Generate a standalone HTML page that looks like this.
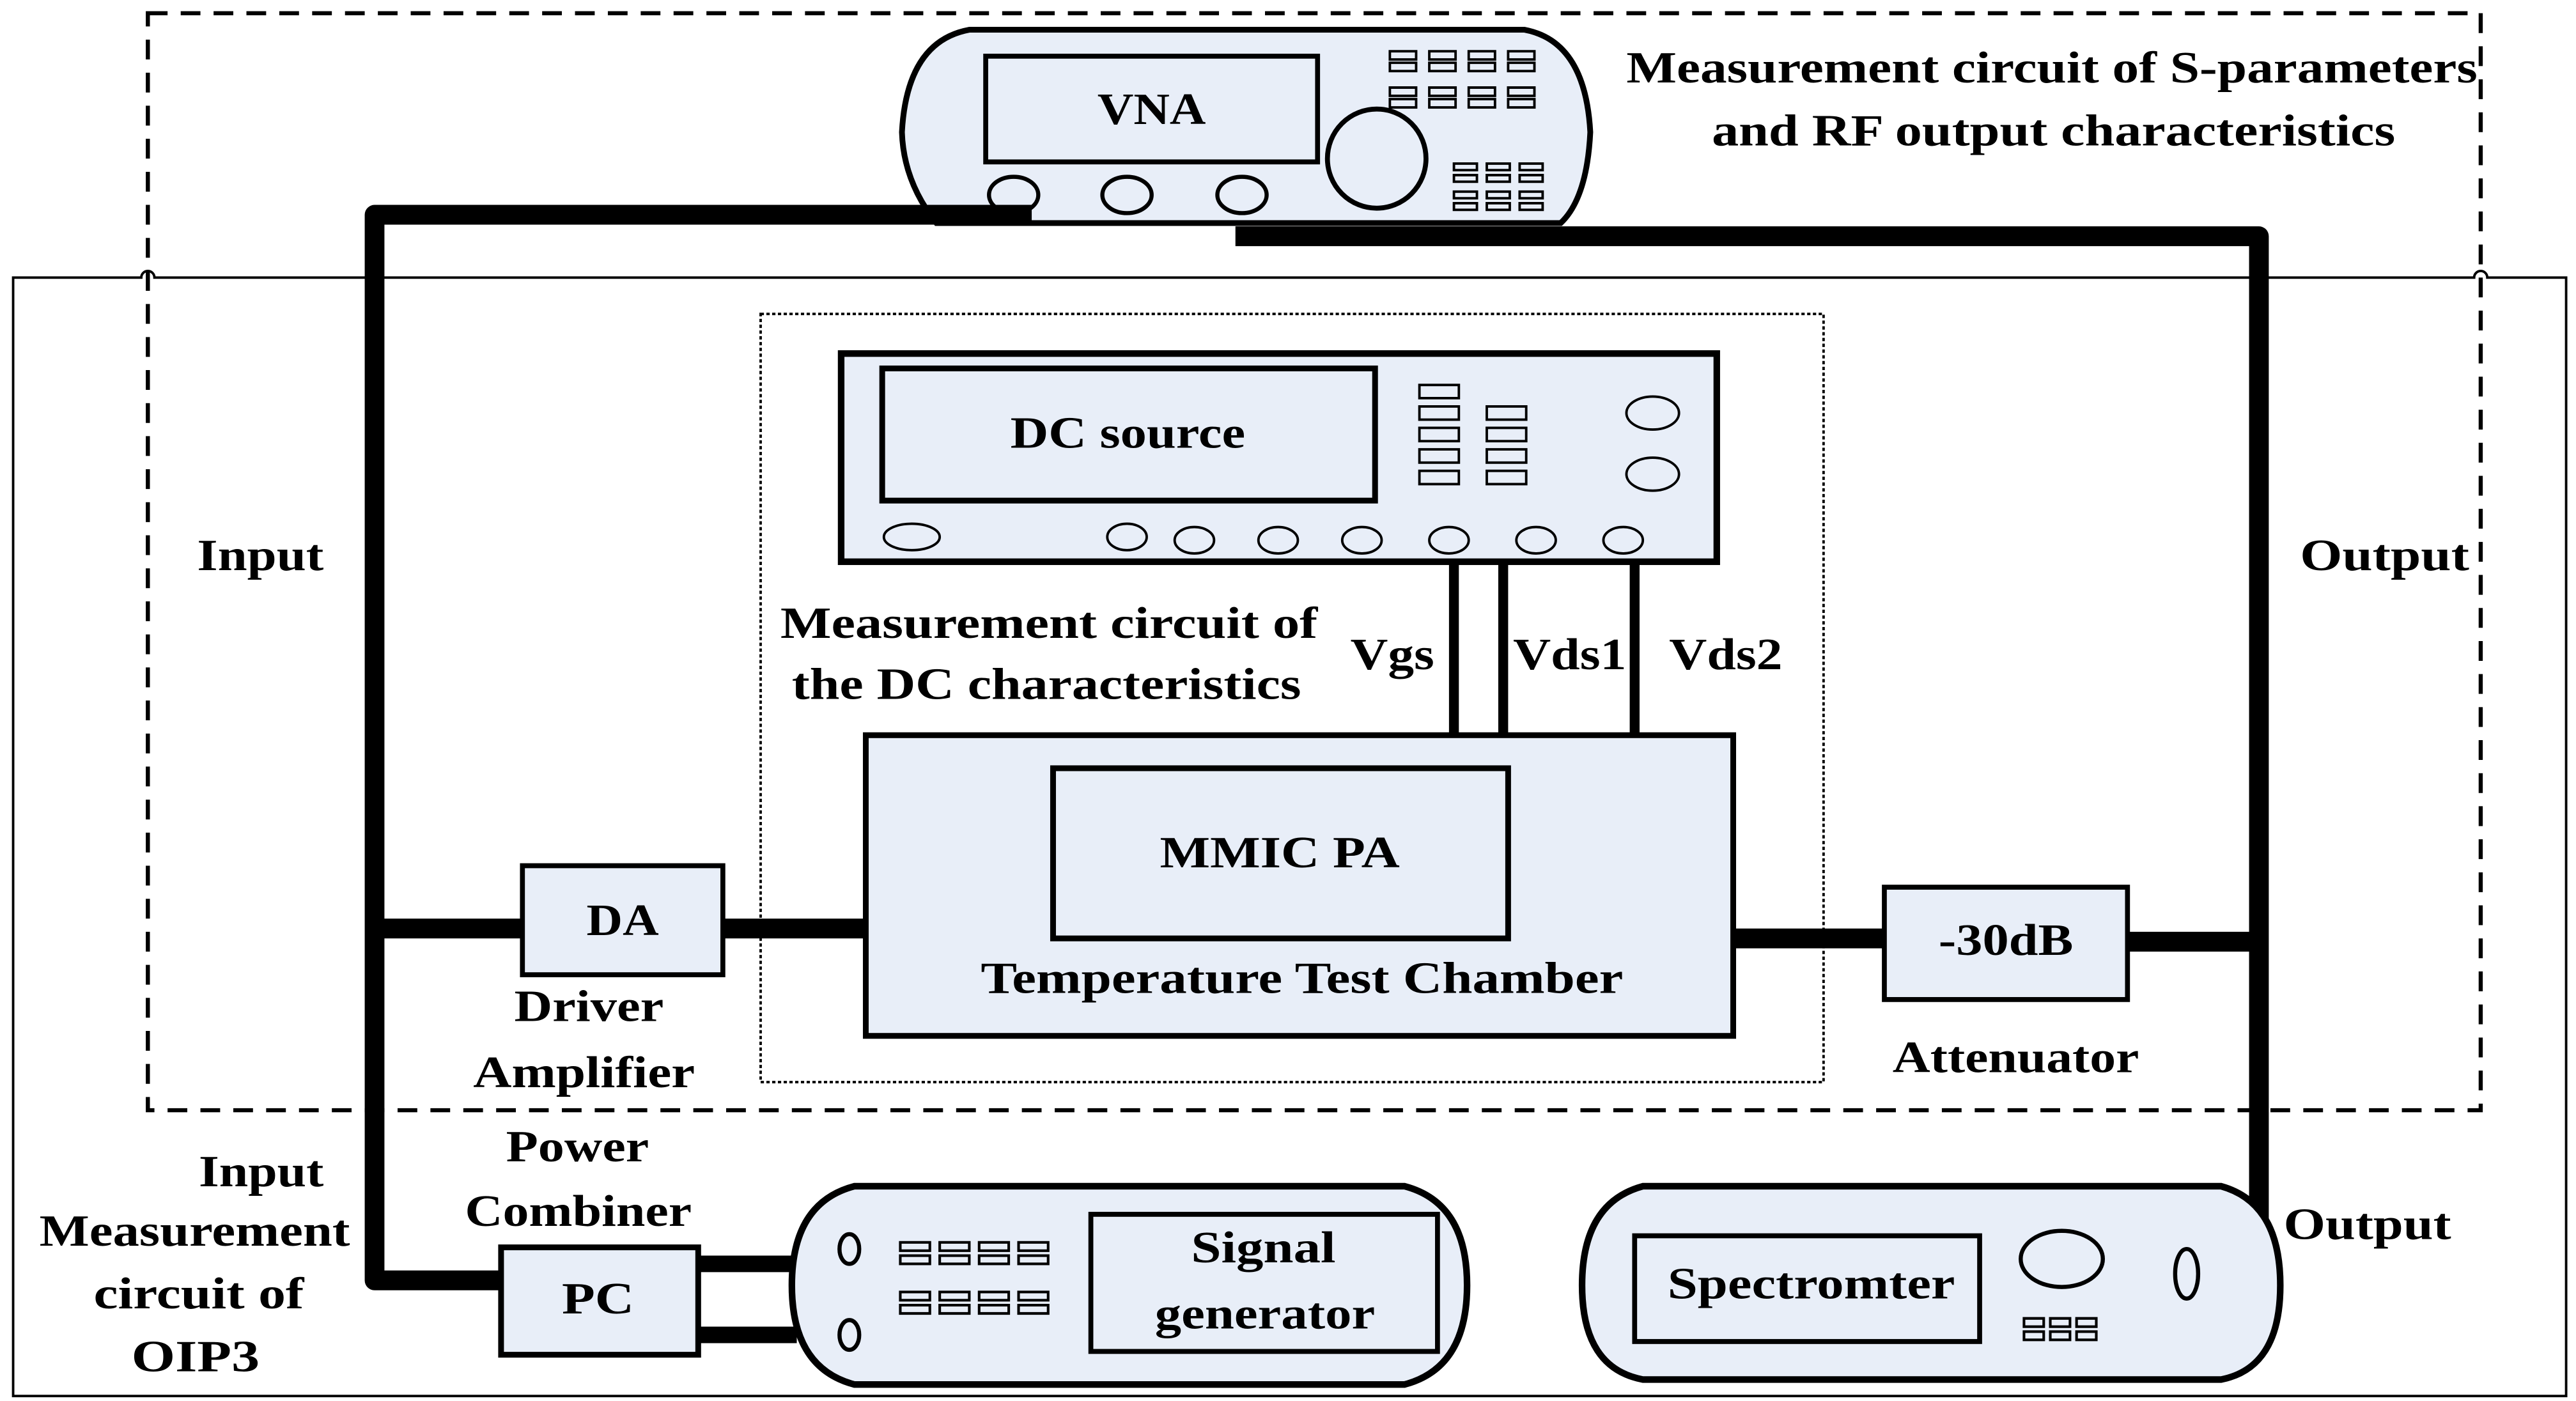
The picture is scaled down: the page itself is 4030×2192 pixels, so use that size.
<!DOCTYPE html>
<html><head><meta charset="utf-8"><style>
html,body{margin:0;padding:0;background:#fff;}
svg{display:block;}
text{font-family:"Liberation Serif",serif;font-weight:bold;font-size:27px;fill:#000;}
</style></head><body>
<svg width="4030" height="2192" viewBox="0 0 1568 848" preserveAspectRatio="none" xmlns="http://www.w3.org/2000/svg">
<g fill="none" stroke="#000">
<path d="M8 168 H86 a4 4 0 0 1 8 0 H1506 a4 4 0 0 1 8 0 H1562 V845 H8 Z" stroke-width="1.5"/>
<rect x="90" y="8" width="1420" height="664" stroke-width="2.5" stroke-dasharray="12 8"/>
<rect x="463" y="190" width="647" height="465" stroke-width="1.5" stroke-dasharray="2 1.5"/>
</g>
<g stroke="#000" fill="#e8eef8">
<path d="M590 18 H928 Q965 25 968 80 Q966 120 950 135 H570 Q550 110 549 80 Q552 25 590 18 Z" stroke-width="3.5"/>
<rect x="600" y="34" width="202" height="64" stroke-width="3"/>
<circle cx="838" cy="96" r="30" stroke-width="3"/>
<ellipse cx="617" cy="118" rx="15" ry="11" stroke-width="2.5"/>
<ellipse cx="686" cy="118" rx="15" ry="11" stroke-width="2.5"/>
<ellipse cx="756" cy="118" rx="15" ry="11" stroke-width="2.5"/>
</g>
<g stroke="#000" fill="none" stroke-width="1.5">
<path d="M846 31h16v5h-16zM846 38h16v5h-16zM870 31h16v5h-16zM870 38h16v5h-16zM894 31h16v5h-16zM894 38h16v5h-16zM918 31h16v5h-16zM918 38h16v5h-16z"/>
<path d="M846 53h16v5h-16zM846 60h16v5h-16zM870 53h16v5h-16zM870 60h16v5h-16zM894 53h16v5h-16zM894 60h16v5h-16zM918 53h16v5h-16zM918 60h16v5h-16z"/>
<path d="M885 99h14v4h-14zM885 106h14v4h-14zM905 99h14v4h-14zM905 106h14v4h-14zM925 99h14v4h-14zM925 106h14v4h-14z"/>
<path d="M885 116h14v4h-14zM885 123h14v4h-14zM905 116h14v4h-14zM905 123h14v4h-14zM925 116h14v4h-14zM925 123h14v4h-14z"/>
</g>
<g stroke="#000" stroke-width="12" fill="none" stroke-linejoin="round">
<path d="M628 130 H228 V775 H305"/>
<path d="M752 143 H1375 V785"/>
<path d="M228 562 H318"/>
<path d="M440 562 H527"/>
<path d="M1055 568 H1147"/>
<path d="M1295 570 H1375"/>
</g>
<g stroke="#000" stroke-width="10">
<path d="M425 765 H485 M425 808 H485"/>
</g>
<g stroke="#000" fill="#e8eef8">
<rect x="512" y="214" width="533" height="126" stroke-width="4"/>
<rect x="537" y="223" width="300" height="80" stroke-width="3.5"/>
</g>
<g stroke="#000" fill="none" stroke-width="1.5">
<path d="M864 233h24v8h-24zM864 246h24v8h-24zM864 259h24v8h-24zM864 272h24v8h-24zM864 285h24v8h-24z"/>
<path d="M905 246h24v8h-24zM905 259h24v8h-24zM905 272h24v8h-24zM905 285h24v8h-24z"/>
<ellipse cx="1006" cy="250" rx="16" ry="10"/><ellipse cx="1006" cy="287" rx="16" ry="10"/>
<ellipse cx="555" cy="325" rx="17" ry="8"/>
<ellipse cx="686" cy="325" rx="12" ry="8"/><ellipse cx="727" cy="327" rx="12" ry="8"/><ellipse cx="778" cy="327" rx="12" ry="8"/><ellipse cx="829" cy="327" rx="12" ry="8"/><ellipse cx="882" cy="327" rx="12" ry="8"/><ellipse cx="935" cy="327" rx="12" ry="8"/><ellipse cx="988" cy="327" rx="12" ry="8"/>
</g>
<g stroke="#000" stroke-width="6">
<path d="M885 340V445M915 340V445M995 340V445"/>
</g>
<g stroke="#000" fill="#e8eef8">
<rect x="527" y="445" width="528" height="182" stroke-width="3.5"/>
<rect x="641" y="465" width="277" height="103" stroke-width="3.5"/>
<rect x="318" y="524" width="122" height="66" stroke-width="3"/>
<rect x="1147" y="537" width="148" height="68" stroke-width="3"/>
<rect x="305" y="755" width="120" height="65" stroke-width="3.5"/>
<path d="M520 718 H855 Q893 728 893 778 Q893 828 855 838 H520 Q482 828 482 778 Q482 728 520 718 Z" stroke-width="4"/>
<rect x="664" y="735" width="211" height="83" stroke-width="3"/>
<path d="M1000 718 H1352 Q1388 728 1388 778 Q1388 828 1352 835 H1000 Q963 828 963 778 Q963 728 1000 718 Z" stroke-width="4"/>
<rect x="995" y="748" width="210" height="64" stroke-width="3"/>
<ellipse cx="1255" cy="762" rx="25" ry="17" stroke-width="2.5"/>
<ellipse cx="1331" cy="771" rx="7" ry="15" stroke-width="2.5"/>
<ellipse cx="517" cy="756" rx="6" ry="9" stroke-width="2.5"/>
<ellipse cx="517" cy="808" rx="6" ry="9" stroke-width="2.5"/>
</g>
<g stroke="#000" fill="none" stroke-width="1.6">
<path d="M548 752h18v5h-18zM548 760h18v5h-18zM572 752h18v5h-18zM572 760h18v5h-18zM596 752h18v5h-18zM596 760h18v5h-18zM620 752h18v5h-18zM620 760h18v5h-18z"/>
<path d="M548 782h18v5h-18zM548 790h18v5h-18zM572 782h18v5h-18zM572 790h18v5h-18zM596 782h18v5h-18zM596 790h18v5h-18zM620 782h18v5h-18zM620 790h18v5h-18z"/>
<path d="M1232 798h12v5h-12zM1232 806h12v5h-12zM1248 798h12v5h-12zM1248 806h12v5h-12zM1264 798h12v5h-12zM1264 806h12v5h-12z"/>
</g>
<g>
<text x="990" y="50" textLength="518" lengthAdjust="spacingAndGlyphs">Measurement circuit of S-parameters</text>
<text x="1042" y="88" textLength="416" lengthAdjust="spacingAndGlyphs">and RF output characteristics</text>
<text x="668" y="75" textLength="66" lengthAdjust="spacingAndGlyphs">VNA</text>
<text x="615" y="271" textLength="143" lengthAdjust="spacingAndGlyphs">DC source</text>
<text x="120" y="345" textLength="77" lengthAdjust="spacingAndGlyphs">Input</text>
<text x="1400" y="345" textLength="103" lengthAdjust="spacingAndGlyphs">Output</text>
<text x="475" y="386" textLength="327" lengthAdjust="spacingAndGlyphs">Measurement circuit of</text>
<text x="482" y="423" textLength="310" lengthAdjust="spacingAndGlyphs">the DC characteristics</text>
<text x="822" y="405" textLength="51" lengthAdjust="spacingAndGlyphs">Vgs</text>
<text x="921" y="405" textLength="69" lengthAdjust="spacingAndGlyphs">Vds1</text>
<text x="1016" y="405" textLength="69" lengthAdjust="spacingAndGlyphs">Vds2</text>
<text x="706" y="525" textLength="146" lengthAdjust="spacingAndGlyphs">MMIC PA</text>
<text x="597" y="601" textLength="391" lengthAdjust="spacingAndGlyphs">Temperature Test Chamber</text>
<text x="357" y="566" textLength="44" lengthAdjust="spacingAndGlyphs">DA</text>
<text x="1180" y="578" textLength="82" lengthAdjust="spacingAndGlyphs">-30dB</text>
<text x="313" y="618" textLength="91" lengthAdjust="spacingAndGlyphs">Driver</text>
<text x="288" y="658" textLength="135" lengthAdjust="spacingAndGlyphs">Amplifier</text>
<text x="1152" y="649" textLength="150" lengthAdjust="spacingAndGlyphs">Attenuator</text>
<text x="308" y="703" textLength="87" lengthAdjust="spacingAndGlyphs">Power</text>
<text x="283" y="742" textLength="138" lengthAdjust="spacingAndGlyphs">Combiner</text>
<text x="121" y="718" textLength="76" lengthAdjust="spacingAndGlyphs">Input</text>
<text x="24" y="754" textLength="189" lengthAdjust="spacingAndGlyphs">Measurement</text>
<text x="57" y="792" textLength="128" lengthAdjust="spacingAndGlyphs">circuit of</text>
<text x="80" y="830" textLength="78" lengthAdjust="spacingAndGlyphs">OIP3</text>
<text x="342" y="795" textLength="44" lengthAdjust="spacingAndGlyphs">PC</text>
<text x="725" y="764" textLength="88" lengthAdjust="spacingAndGlyphs">Signal</text>
<text x="703" y="804" textLength="134" lengthAdjust="spacingAndGlyphs">generator</text>
<text x="1015" y="786" textLength="175" lengthAdjust="spacingAndGlyphs">Spectromter</text>
<text x="1390" y="750" textLength="102" lengthAdjust="spacingAndGlyphs">Output</text>
</g>
</svg>
</body></html>
